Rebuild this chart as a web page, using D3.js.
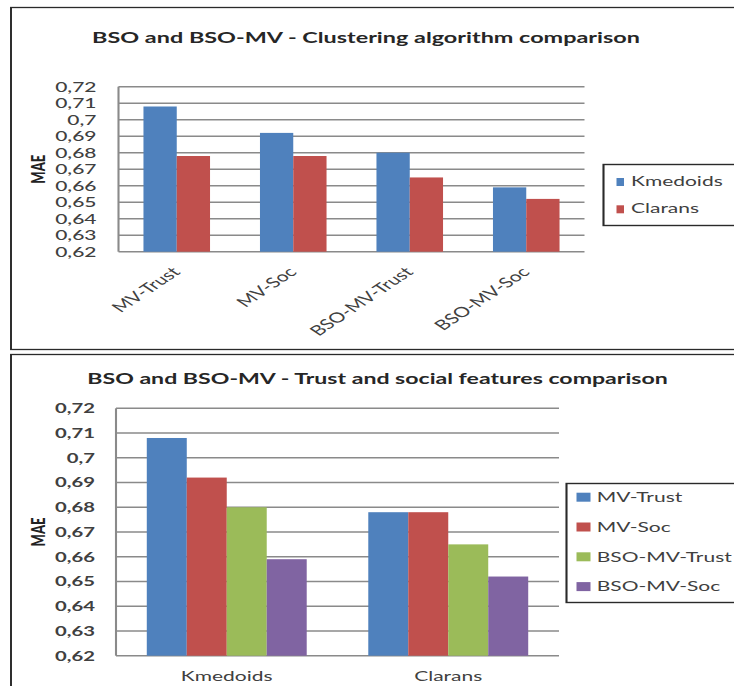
<!DOCTYPE html>
<html>
<head>
<meta charset="utf-8">
<script src="https://cdn.jsdelivr.net/npm/d3@7/dist/d3.min.js"></script>
<style>
  html, body { margin: 0; padding: 0; background: #fff; overflow: hidden; }
  svg { display: block; }
  text { font-family: Lato, "Open Sans", sans-serif; }
</style>
</head>
<body>
<svg id="chart"></svg>
<script>
// ---- data ----
const methods = ["MV-Trust", "MV-Soc", "BSO-MV-Trust", "BSO-MV-Soc"];
const algorithms = ["Kmedoids", "Clarans"];
const kmedoidsMAE = [0.708, 0.692, 0.680, 0.659];
const claransMAE = [0.678, 0.678, 0.665, 0.652];
const maeDomain = [0.62, 0.72];
const maeTicks = [0.62, 0.63, 0.64, 0.65, 0.66, 0.67, 0.68, 0.69, 0.70, 0.71, 0.72];
const maeTickLabels = ["0,62", "0,63", "0,64", "0,65", "0,66", "0,67", "0,68", "0,69", "0,7", "0,71", "0,72"];
const titleTop = "BSO and BSO-MV - Clustering algorithm comparison";
const titleBottom = "BSO and BSO-MV - Trust and social features comparison";
const yTitle = "MAE";

// ---- styles ----
const algoColors = ["#4F81BD", "#C0504D"];
const methodColors = ["#4F81BD", "#C0504D", "#9BBB59", "#8064A2"];
const gridColor = "#8a8a8a";
const textColor = "#404040";
const frameColor = "#2a2a2a";

// The drawing is laid out in pixels and squeezed into a viewBox that is
// stretched horizontally, giving the wide lettering of the figure.
const W = 734, H = 686, SX = 1.5;
const px = v => v / SX;

const svg = d3.select("#chart")
  .attr("width", W).attr("height", H)
  .attr("viewBox", `0 0 ${W / SX} ${H}`)
  .attr("preserveAspectRatio", "none");

svg.append("rect").attr("x", 0).attr("y", 0).attr("width", W / SX).attr("height", H).attr("fill", "#fff");

// panel frames
svg.append("rect").attr("x", px(11)).attr("y", 7.5).attr("width", px(760)).attr("height", 342)
  .attr("fill", "none").attr("stroke", frameColor).attr("stroke-width", 1.3);
svg.append("rect").attr("x", px(11)).attr("y", 354.5).attr("width", px(760)).attr("height", 400)
  .attr("fill", "none").attr("stroke", frameColor).attr("stroke-width", 1.3);

function drawFrame(g, x, y, opts) {
  // gridlines
  g.append("g").selectAll("line").data(maeTicks).join("line")
    .attr("x1", x.range()[0]).attr("x2", x.range()[1])
    .attr("y1", d => y(d)).attr("y2", d => y(d))
    .attr("stroke", gridColor).attr("stroke-width", 1.5);
  // value axis
  const ax = g.append("g").attr("transform", `translate(${x.range()[0]},0)`)
    .call(d3.axisLeft(y).tickValues(maeTicks).tickSize(0).tickPadding(opts.pad)
      .tickFormat((d, i) => maeTickLabels[i]));
  ax.select(".domain").attr("stroke", gridColor).attr("stroke-width", 1.4)
    .attr("d", `M0,${y(maeDomain[1])}V${y(maeDomain[0])}`);
  ax.selectAll("text").attr("font-size", opts.tickSize).attr("font-weight", opts.tickWeight)
    .attr("fill", textColor).attr("font-family", "Lato, sans-serif");
  // axis title
  const cy = (y(maeDomain[0]) + y(maeDomain[1])) / 2;
  g.append("text").attr("transform", `translate(${px(45)},${cy}) rotate(-90)`)
    .attr("text-anchor", "middle").attr("font-size", 13).attr("font-weight", 900)
    .attr("fill", "#222").text(yTitle);
}

// ---- top chart: clustering algorithm comparison ----
{
  const g = svg.append("g");
  const x0 = d3.scaleBand().domain(methods).range([px(118.5), px(584.5)]);
  const x1 = d3.scaleBand().domain(algorithms).range([0, x0.bandwidth()]).paddingOuter(0.75);
  const y = d3.scaleLinear().domain(maeDomain).range([251.7, 86.7]);
  const rows = methods.map((m, i) => ({ m, vals: [kmedoidsMAE[i], claransMAE[i]] }));

  drawFrame(g, x0, y, { pad: px(22), tickSize: 14, tickWeight: 500 });

  g.append("g").selectAll("g").data(rows).join("g")
    .attr("transform", d => `translate(${x0(d.m)},0)`)
    .selectAll("rect").data(d => d.vals.map((v, j) => ({ a: algorithms[j], v, j })))
    .join("rect")
    .attr("x", d => x1(d.a)).attr("width", x1.bandwidth())
    .attr("y", d => y(d.v)).attr("height", d => y(maeDomain[0]) - y(d.v))
    .attr("fill", d => algoColors[d.j]);

  g.append("g").selectAll("text").data(methods).join("text")
    .attr("transform", d => `translate(${x0(d) + x0.bandwidth() / 2 + 3},${273}) rotate(-45)`)
    .attr("text-anchor", "end").attr("font-size", 14).attr("fill", textColor).text(d => d);

  g.append("text").attr("x", px(366)).attr("y", 43).attr("text-anchor", "middle")
    .attr("font-size", 15.6).attr("font-weight", 700).attr("fill", "#262626").text(titleTop);

  // legend
  const lg = g.append("g");
  lg.append("rect").attr("x", px(603.5)).attr("y", 164.5).attr("width", px(160)).attr("height", 61)
    .attr("fill", "#fff").attr("stroke", frameColor).attr("stroke-width", 1.4);
  const items = lg.selectAll("g.item").data(algorithms).join("g").attr("class", "item")
    .attr("transform", (d, i) => `translate(0,${186 + i * 27.3})`);
  items.append("rect").attr("x", px(616.5)).attr("y", -8).attr("width", px(7.5)).attr("height", 8)
    .attr("fill", (d, i) => algoColors[i]);
  items.append("text").attr("x", px(631)).attr("y", 0).attr("font-size", 14)
    .attr("fill", textColor).text(d => d);
}

// ---- bottom chart: trust and social features comparison ----
{
  const g = svg.append("g");
  const x0 = d3.scaleBand().domain(algorithms).range([px(116), px(559)]);
  const x1 = d3.scaleBand().domain(methods).range([0, x0.bandwidth()]).paddingOuter(0.77);
  const y = d3.scaleLinear().domain(maeDomain).range([655.7, 408.3]);
  const series = [kmedoidsMAE, claransMAE];
  const rows = algorithms.map((a, i) => ({ a, vals: series[i] }));

  drawFrame(g, x0, y, { pad: px(21), tickSize: 13.5, tickWeight: 700 });

  g.append("g").selectAll("g").data(rows).join("g")
    .attr("transform", d => `translate(${x0(d.a)},0)`)
    .selectAll("rect").data(d => d.vals.map((v, j) => ({ m: methods[j], v, j })))
    .join("rect")
    .attr("x", d => x1(d.m)).attr("width", x1.bandwidth())
    .attr("y", d => y(d.v)).attr("height", d => y(maeDomain[0]) - y(d.v))
    .attr("fill", d => methodColors[d.j]);

  g.append("g").selectAll("text").data(algorithms).join("text")
    .attr("x", d => x0(d) + x0.bandwidth() / 2).attr("y", 681)
    .attr("text-anchor", "middle").attr("font-size", 14).attr("fill", textColor).text(d => d);

  g.append("text").attr("x", px(377.5)).attr("y", 384).attr("text-anchor", "middle")
    .attr("font-size", 15.4).attr("font-weight", 700).attr("fill", "#262626").text(titleBottom);

  const lg = g.append("g");
  lg.append("rect").attr("x", px(566.5)).attr("y", 483.5).attr("width", px(200)).attr("height", 119)
    .attr("fill", "#fff").attr("stroke", frameColor).attr("stroke-width", 1.4);
  const items = lg.selectAll("g.item").data(methods).join("g").attr("class", "item")
    .attr("transform", (d, i) => `translate(0,${502 + i * 29.8})`);
  items.append("rect").attr("x", px(576.5)).attr("y", -9.3).attr("width", px(14)).attr("height", 9)
    .attr("fill", (d, i) => methodColors[i]);
  items.append("text").attr("x", px(596.7)).attr("y", 0).attr("font-size", 14)
    .attr("fill", textColor).text(d => d);
}
</script>
</body>
</html>
